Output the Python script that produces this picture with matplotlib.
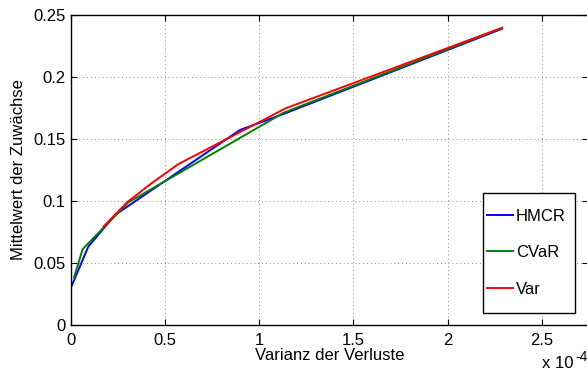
import matplotlib
matplotlib.use("Agg")
import matplotlib.pyplot as plt
from matplotlib.patches import Rectangle

plt.rcParams['font.family'] = ['Liberation Sans', 'DejaVu Sans']
plt.rcParams['font.size'] = 12

# Varianz in Einheiten von 1e-4
hmcr_x = [0.0, 0.092, 0.234, 0.897, 1.13, 2.287]
hmcr_y = [0.030, 0.063, 0.0885, 0.157, 0.170, 0.2385]

cvar_x = [0.016, 0.062, 0.305, 1.13, 2.29]
cvar_y = [0.038, 0.061, 0.0987, 0.171, 0.2392]

var_x = [0.172, 0.30, 0.43, 0.57, 0.90, 1.14, 2.29]
var_y = [0.079, 0.099, 0.1143, 0.1295, 0.1555, 0.1745, 0.2395]

xticks = [0, 0.5, 1, 1.5, 2, 2.5]
xtick_labels = ['0', '0.5', '1', '1.5', '2', '2.5']
yticks = [0, 0.05, 0.1, 0.15, 0.2, 0.25]
ytick_labels = ['0', '0.05', '0.1', '0.15', '0.2', '0.25']

W, H = 587, 372
fig = plt.figure(figsize=(W / 100, H / 100), dpi=100)
ax = fig.add_axes([71 / W, (H - 324.7) / H, (588 - 71) / W, (324.7 - 14.7) / H])

ax.plot(hmcr_x, hmcr_y, color=(0, 0, 1), lw=1.4, label='HMCR')
ax.plot(cvar_x, cvar_y, color=(0, 0.5, 0), lw=1.4, label='CVaR')
ax.plot(var_x, var_y, color=(1, 0, 0), lw=1.4, label='Var')

ax.set_xlim(0, 2.746)
ax.set_ylim(0, 0.25)
ax.set_xticks(xticks)
ax.set_xticklabels(xtick_labels)
ax.set_yticks(yticks)
ax.set_yticklabels(ytick_labels)
ax.tick_params(direction='in', length=4, width=0.8, top=True, right=True)
ax.tick_params(axis='x', pad=6)
ax.tick_params(axis='y', pad=4)
ax.grid(True, linestyle=(0, (1, 3)), color='0.55', lw=0.7)
for s in ax.spines.values():
    s.set_linewidth(1.0)

ax.set_xlabel('Varianz der Verluste', labelpad=0)
ax.set_ylabel('Mittelwert der Zuwächse', labelpad=5)

fig.text(542 / W, (H - 368) / H, 'x 10', fontsize=12, va='baseline')
fig.text(575 / W, (H - 361) / H, '-4', fontsize=10, va='baseline')

# Legende mit eigenem Rahmen
x0, x1, y0, y1 = 482.7, 575.3, 192.7, 312.7
to_ax = lambda px, py: ((px - 71) / 517, (324.7 - py) / 310)
bx, by = to_ax(x0, y1)
ax.add_patch(Rectangle((bx, by), (x1 - x0) / 517, (y1 - y0) / 310,
                       transform=ax.transAxes, facecolor='white',
                       edgecolor='black', lw=1.0, zorder=5))
leg = ax.legend(loc='center left', bbox_to_anchor=to_ax(x0 - 1, (y0 + y1) / 2),
                frameon=False, handlelength=1.6, handletextpad=0.15,
                labelspacing=1.3, borderpad=0.3, borderaxespad=0)
leg.set_zorder(6)

fig.savefig('out.png', dpi=100)
